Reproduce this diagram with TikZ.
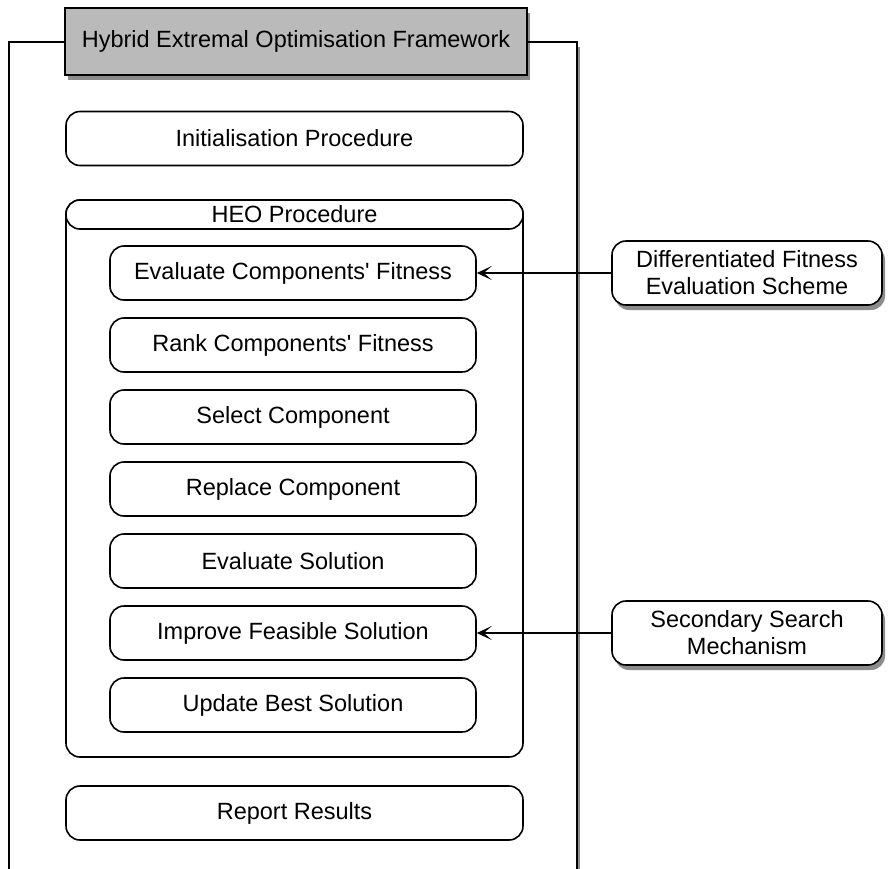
\documentclass[tikz,border=0pt]{standalone}
\usepackage{fontspec}
\setmainfont{Liberation Sans}
\usetikzlibrary{shadows,arrows.meta}
\tikzset{
  sh/.style={drop shadow={shadow xshift=3pt,shadow yshift=-5pt,opacity=0.45,fill=black}},
  box/.style={draw,line width=1.6pt,rounded corners=14pt,fill=white,align=center,inner sep=0pt,
    font=\fontsize{23.5}{27}\selectfont},
  outerbox/.style={box,minimum width=457pt,minimum height=54pt},
  innerbox/.style={box,minimum width=366pt,minimum height=54pt},
  sidebox/.style={box,sh,minimum width=270pt,minimum height=64pt},
  conn/.style={line width=1.6pt,-{Stealth[length=15pt,width=14pt,inset=8pt]}}
}
\begin{document}
\begin{tikzpicture}[x=1pt,y=-1pt]
\useasboundingbox (0,0) rectangle (891,868);
\fill[white] (0,0) rectangle (891,868);
% outer frame
\node[draw,line width=1.6pt,fill=white,sh,minimum width=568pt,minimum height=838pt,inner sep=0pt] (frame) at (293,461) {};
% title
\node[draw,line width=1.6pt,fill=black!27,sh,minimum width=462pt,minimum height=67pt,inner sep=0pt,
  font=\fontsize{23.5}{27}\selectfont] (title) at (296,41.5) {Hybrid Extremal Optimisation Framework};
% initialisation
\node[outerbox] (init) at (294.5,138.5) {Initialisation Procedure};
% HEO container
\node[draw,line width=1.6pt,rounded corners=14pt,minimum width=457pt,minimum height=557pt,inner sep=0pt] (heo) at (294.5,478.5) {};
\node[box,minimum width=457pt,minimum height=29pt] (heohead) at (294.5,214.5) {HEO Procedure};
% inner steps
\node[innerbox] (s1) at (293,273) {Evaluate Components\textquotesingle\ Fitness};
\node[innerbox] (s2) at (293,345) {Rank Components\textquotesingle\ Fitness};
\node[innerbox] (s3) at (293,417) {Select Component};
\node[innerbox] (s4) at (293,489) {Replace Component};
\node[innerbox] (s5) at (293,561) {Evaluate Solution};
\node[innerbox] (s6) at (293,633) {Improve Feasible Solution};
\node[innerbox] (s7) at (293,705) {Update Best Solution};
% report
\node[outerbox] (report) at (294.5,813) {Report Results};
% side boxes
\node[sidebox] (diff) at (747,273) {Differentiated Fitness\\Evaluation Scheme};
\node[sidebox] (sec) at (747,633) {Secondary Search\\Mechanism};
% connectors
\draw[conn] (diff.west) -- (s1.east);
\draw[conn] (sec.west) -- (s6.east);
\end{tikzpicture}
\end{document}
